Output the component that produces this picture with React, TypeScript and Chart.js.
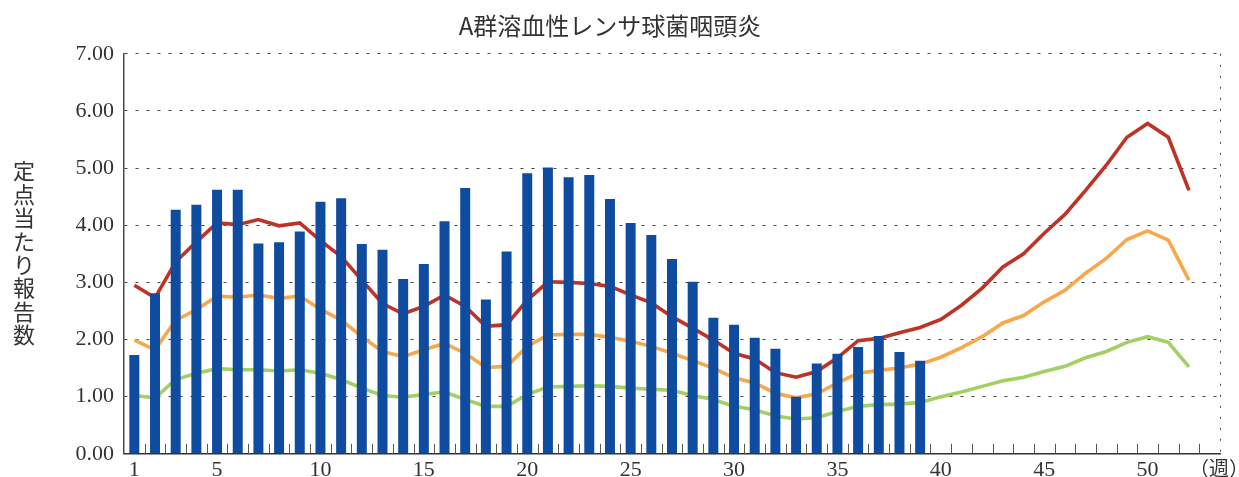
import React, { useEffect, useRef } from "react";
import { Chart, registerables } from "chart.js";

Chart.register(...registerables);

const TITLE = "A群溶血性レンサ球菌咽頭炎";
const Y_TITLE = "定点当たり報告数";
const WEEK_UNIT = "（週）";

// categories: week slots 1..53
const weeks: string[] = Array.from({ length: 53 }, (_, i) => String(i + 1));
const shownWeekLabels: string[] = ["1", "5", "10", "15", "20", "25", "30", "35", "40", "45", "50"];
const yTicks: number[] = [0, 1, 2, 3, 4, 5, 6, 7];

// current year (bars), weeks 1-39
const currentYear: number[] = [
  1.73, 2.81, 4.27, 4.36, 4.62, 4.62, 3.68, 3.70, 3.89, 4.41,
  4.47, 3.67, 3.57, 3.06, 3.32, 4.07, 4.65, 2.70, 3.54, 4.91,
  5.01, 4.84, 4.88, 4.46, 4.04, 3.83, 3.41, 3.01, 2.38, 2.26,
  2.03, 1.84, 1.00, 1.58, 1.75, 1.87, 2.06, 1.78, 1.63,
];

// upper line (red)
const upperLine: number[] = [
  2.95, 2.73, 3.36, 3.71, 4.04, 4.01, 4.10, 3.99, 4.04, 3.73,
  3.45, 3.04, 2.63, 2.45, 2.58, 2.78, 2.58, 2.23, 2.26, 2.69,
  3.01, 3.00, 2.98, 2.93, 2.78, 2.64, 2.40, 2.20, 1.99, 1.76,
  1.66, 1.42, 1.34, 1.44, 1.68, 1.98, 2.02, 2.12, 2.21, 2.35,
  2.60, 2.90, 3.27, 3.50, 3.86, 4.19, 4.61, 5.05, 5.54, 5.78,
  5.54, 4.61,
];

// middle line (orange)
const middleLine: number[] = [
  1.99, 1.82, 2.34, 2.52, 2.76, 2.74, 2.78, 2.72, 2.76, 2.53,
  2.34, 2.05, 1.79, 1.70, 1.82, 1.93, 1.76, 1.51, 1.53, 1.88,
  2.08, 2.09, 2.09, 2.04, 1.97, 1.88, 1.76, 1.63, 1.50, 1.33,
  1.24, 1.06, 0.98, 1.05, 1.24, 1.41, 1.46, 1.50, 1.57, 1.69,
  1.86, 2.05, 2.29, 2.42, 2.66, 2.86, 3.16, 3.42, 3.75, 3.90,
  3.74, 3.04,
];

// lower line (green)
const lowerLine: number[] = [
  1.02, 0.98, 1.30, 1.41, 1.49, 1.47, 1.47, 1.45, 1.47, 1.41,
  1.30, 1.15, 1.02, 0.99, 1.04, 1.08, 0.95, 0.83, 0.83, 1.04,
  1.17, 1.18, 1.19, 1.18, 1.15, 1.13, 1.11, 1.02, 0.95, 0.83,
  0.77, 0.66, 0.61, 0.63, 0.74, 0.83, 0.86, 0.87, 0.90, 1.00,
  1.08, 1.18, 1.28, 1.34, 1.44, 1.53, 1.68, 1.79, 1.95, 2.05,
  1.95, 1.52,
];

const BAR_COLOR = "#0F4C9F";
const RED = "#BD3426";
const ORANGE = "#F8A84C";
const GREEN = "#A3D063";
const TEXT = "#333333";
const AXIS = "#4a4a4a";

const CJK = '"Noto Sans CJK JP", "Noto Sans", sans-serif';
const SERIF = '"Liberation Serif", "DejaVu Serif", serif';

const decorPlugin = {
  id: "decor",
  beforeDatasetsDraw(chart: any) {
    const { ctx, chartArea, scales } = chart;
    const x = scales.x;
    ctx.save();
    // upward tick marks at slot boundaries
    ctx.strokeStyle = "#555";
    ctx.lineWidth = 1;
    const n = weeks.length;
    const w = (chartArea.right - chartArea.left) / n;
    for (let i = 1; i < n; i++) {
      const px = Math.round(x.getPixelForValue(i - 1) + w / 2) + 0.5;
      ctx.beginPath();
      ctx.moveTo(px, chartArea.bottom);
      ctx.lineTo(px, chartArea.bottom - 10);
      ctx.stroke();
    }
    // dotted right border
    ctx.setLineDash([2, 9]);
    ctx.strokeStyle = "#444";
    ctx.beginPath();
    const rx = Math.round(chartArea.right) + 0.5;
    ctx.moveTo(rx, chartArea.top);
    ctx.lineTo(rx, chartArea.bottom);
    ctx.stroke();
    ctx.restore();
  },
  afterDraw(chart: any) {
    const { ctx, chartArea } = chart;
    ctx.save();
    // vertical y-axis title, upright characters
    ctx.fillStyle = TEXT;
    ctx.font = `22px ${CJK}`;
    ctx.textAlign = "center";
    ctx.textBaseline = "middle";
    const chars = Array.from(Y_TITLE);
    const step = 23.4;
    const startY = 171;
    chars.forEach((c, i) => ctx.fillText(c, 24, startY + i * step));
    // week unit label
    ctx.font = `20px ${CJK}`;
    ctx.textAlign = "center";
    ctx.textBaseline = "top";
    ctx.fillText(WEEK_UNIT, chartArea.right - 1, chartArea.bottom + 5);
    ctx.restore();
  },
};

export default function App() {
  const ref = useRef<HTMLCanvasElement | null>(null);

  useEffect(() => {
    if (!ref.current) return;
    const chart = new Chart(ref.current, {
      type: "bar",
      data: {
        labels: weeks,
        datasets: [
          {
            type: "bar",
            label: "今年",
            data: currentYear,
            backgroundColor: BAR_COLOR,
            borderWidth: 0,
            barPercentage: 0.483,
            categoryPercentage: 1,
            order: 0,
          },
          {
            type: "line",
            label: "上限",
            data: upperLine,
            borderColor: RED,
            borderWidth: 3.6,
            pointRadius: 0,
            tension: 0,
            fill: false,
            order: 1,
          },
          {
            type: "line",
            label: "中央",
            data: middleLine,
            borderColor: ORANGE,
            borderWidth: 3.6,
            pointRadius: 0,
            tension: 0,
            fill: false,
            order: 2,
          },
          {
            type: "line",
            label: "下限",
            data: lowerLine,
            borderColor: GREEN,
            borderWidth: 3.6,
            pointRadius: 0,
            tension: 0,
            fill: false,
            order: 3,
          },
        ] as any,
      },
      options: {
        responsive: false,
        animation: false,
        layout: { padding: { left: 0, right: 19, top: 0, bottom: 0 } },
        plugins: {
          legend: { display: false },
          tooltip: { enabled: false },
          title: {
            display: true,
            text: TITLE,
            color: TEXT,
            font: { family: CJK, size: 24, weight: "normal" as any },
            padding: { top: 11, bottom: 14 },
          },
        },
        scales: {
          x: {
            offset: true,
            grid: { display: false, drawTicks: false },
            border: { display: true, color: "#333", width: 1.5 },
            ticks: {
              autoSkip: false,
              maxRotation: 0,
              padding: 3,
              color: TEXT,
              font: { family: SERIF, size: 22 },
              callback: (_v: any, i: number) =>
                shownWeekLabels.includes(weeks[i]) ? weeks[i] : "",
            },
            afterFit: (s: any) => {
              s.height = 23;
            },
          },
          y: {
            min: yTicks[0],
            max: yTicks[yTicks.length - 1],
            afterBuildTicks: (s: any) => {
              s.ticks = yTicks.map((v) => ({ value: v }));
            },
            grid: { color: "#444", lineWidth: 1, drawTicks: false },
            border: { display: true, color: AXIS, width: 1.5, dash: [3, 8] },
            ticks: {
              padding: 10,
              color: TEXT,
              font: { family: SERIF, size: 22 },
              callback: (v: any) => Number(v).toFixed(2),
            },
            afterFit: (s: any) => {
              s.width = 124;
            },
          },
        },
      },
      plugins: [decorPlugin],
    });
    return () => chart.destroy();
  }, []);

  return (
    <div style={{ position: "fixed", left: 0, top: 0, width: 1239, height: 477, background: "#fff" }}>
      <canvas ref={ref} width={1239} height={477} style={{ display: "block" }} />
    </div>
  );
}
